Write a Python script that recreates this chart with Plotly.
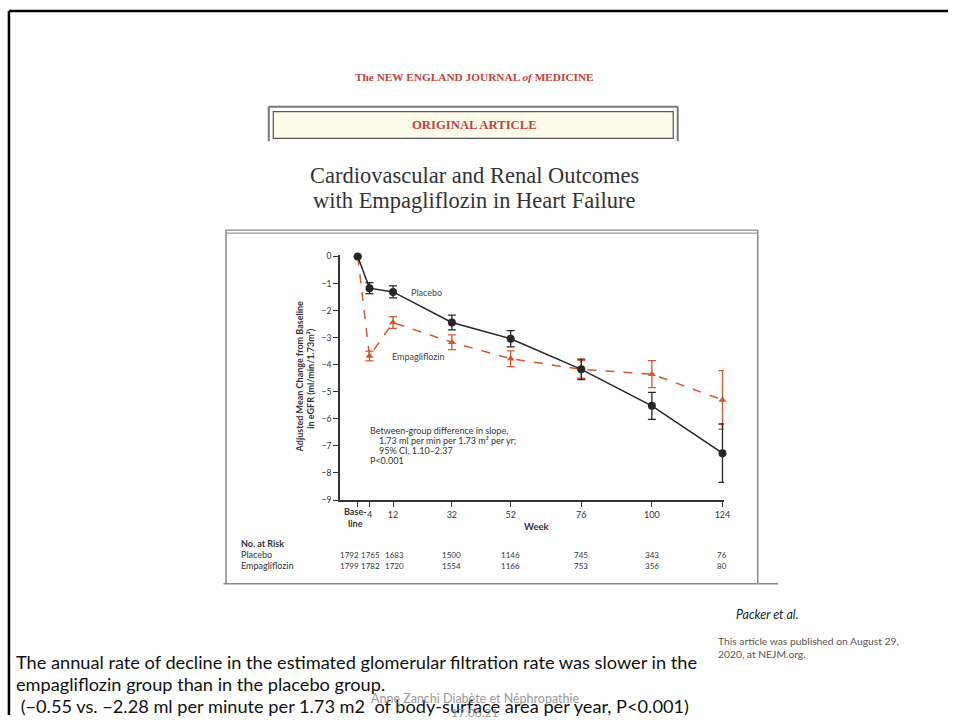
import plotly.graph_objects as go

# ---------------- data ----------------
weeks = [0, 4, 12, 32, 52, 76, 100, 124]
tick_labels = ["", "4", "12", "32", "52", "76", "100", "124"]
baseline_label = "<b>Base-<br>line</b>"
placebo_mean = [0, -1.17, -1.31, -2.44, -3.04, -4.17, -5.52, -7.27]
placebo_ci = [0, 0.20, 0.22, 0.27, 0.30, 0.38, 0.50, 1.08]
empa_mean = [0, -3.68, -2.44, -3.17, -3.78, -4.17, -4.35, -5.30]
empa_ci = [0, 0.18, 0.22, 0.27, 0.29, 0.33, 0.50, 1.08]
risk_placebo = [1792, 1765, 1683, 1500, 1146, 745, 343, 76]
risk_empa = [1799, 1782, 1720, 1554, 1166, 753, 356, 80]
risk_shift = [-8, 1, 1, 0, 0, 0, 0, 0]
y_ticks = [0, -1, -2, -3, -4, -5, -6, -7, -8, -9]

W, H = 954, 720
def px(x): return x / W
def py(y): return 1 - y / H

RED = "#d4572f"
DARK = "#262626"
SANS = "Lato, Open Sans, sans-serif"
SERIF = "Liberation Serif, DejaVu Serif, serif"

fig = go.Figure()

fig.add_trace(go.Scatter(
    x=weeks, y=empa_mean, mode="lines+markers", name="Empagliflozin",
    line=dict(color=RED, width=1.5, dash="dash"),
    marker=dict(symbol="triangle-up", size=7, color=RED),
    error_y=dict(type="data", array=empa_ci, color=RED, thickness=1.3, width=4),
    showlegend=False, cliponaxis=False,
))
fig.add_trace(go.Scatter(
    x=weeks, y=placebo_mean, mode="lines+markers", name="Placebo",
    line=dict(color=DARK, width=1.5),
    marker=dict(symbol="circle", size=8, color=DARK),
    error_y=dict(type="data", array=placebo_ci, color=DARK, thickness=1.3, width=4),
    showlegend=False, cliponaxis=False,
))

X0, SLOPE = 360.0, 2.96
x0_px, x1_px = 342, 728.5
xr0, xr1 = (x0_px - X0) / SLOPE, (x1_px - X0) / SLOPE

fig.update_layout(
    width=W, height=H, autosize=False,
    margin=dict(l=0, r=0, t=0, b=0),
    paper_bgcolor="white", plot_bgcolor="white",
    xaxis=dict(domain=[px(x0_px), px(x1_px)], range=[xr0, xr1],
               tickmode="array", tickvals=weeks, ticktext=tick_labels, tickangle=0,
               showline=True, linecolor="#333", linewidth=1.5,
               ticks="outside", ticklen=5, tickwidth=1.2, tickcolor="#333",
               showgrid=False, zeroline=False,
               tickfont=dict(family=SANS, size=9, color="#333")),
    yaxis=dict(domain=[py(502.3), py(254.3)], range=[-9, 0.05],
               tickmode="array", tickvals=y_ticks,
               showline=True, linecolor="#333", linewidth=1.5,
               ticks="outside", ticklen=5, tickwidth=1.2, tickcolor="#333",
               showgrid=False, zeroline=False,
               tickfont=dict(family=SANS, size=8.5, color="#333")),
    font=dict(family=SANS),
)

ann = []
def text(x, y, t, size, color="#333", family=SANS, xanchor="left", xref="paper",
         angle=0, xshift=0, yanchor="middle"):
    ann.append(dict(x=x, y=y, xref=xref, yref="paper", text=t, showarrow=False,
                    xanchor=xanchor, yanchor=yanchor, textangle=angle, xshift=xshift,
                    borderpad=0, font=dict(size=size, color=color, family=family)))

# header
text(px(477), py(74), "<b>The NEW ENGLAND JOURNAL <i>of</i> MEDICINE</b>", 11.3, "#c8413a", SERIF, "center")
text(px(477), py(122.5), "<b>ORIGINAL ARTICLE</b>", 12.7, "#c8413a", SERIF, "center")
text(px(477), py(174), "Cardiovascular and Renal Outcomes", 22.5, "#333", SERIF, "center")
text(px(477), py(199), "with Empagliflozin in Heart Failure", 22.5, "#333", SERIF, "center")

# chart labels
text(px(413), py(291.7), "Placebo", 9, "#444")
text(px(393), py(356.7), "Empagliflozin", 9, "#444")
text(px(371), py(431.7), "Between-group difference in slope,", 9, "#333")
text(px(380), py(442), "1.73 ml per min per 1.73 m² per yr;", 9, "#333")
text(px(380), py(452.3), "95% CI, 1.10–2.37", 9, "#333")
text(px(371), py(462.6), "P<0.001", 9, "#333")
text(px(301), py(378), "<b>Adjusted Mean Change from Baseline</b>", 9, "#333", SANS, "center", angle=-90)
text(px(312.5), py(379), "<b>in eGFR (ml/min/1.73m²)</b>", 9, "#333", SANS, "center", angle=-90)
text(0, py(507.5), baseline_label, 9, "#333", SANS, "center", xref="x", xshift=-2, yanchor="top")
text(61, py(529), "<b>Week</b>", 9.5, "#333", SANS, "center", xref="x")

# risk table
text(px(241.7), py(546.7), "<b>No. at Risk</b>", 9, "#333")
text(px(241.7), py(557.7), "Placebo", 9, "#333")
text(px(241.7), py(569), "Empagliflozin", 9, "#333")
for wk, a, b, s in zip(weeks, risk_placebo, risk_empa, risk_shift):
    text(wk, py(557.7), str(a), 8, "#333", SANS, "center", xref="x", xshift=s)
    text(wk, py(569), str(b), 8, "#333", SANS, "center", xref="x", xshift=s)

# slide texts
text(px(740), py(618), "<i>Packer et al.</i>", 12.5, "#222")
text(px(722), py(645), "This article was published on August 29,", 10.3, "#555")
text(px(722), py(658), "2020, at NEJM.org.", 10.3, "#555")
text(px(15), py(666), "The annual rate of decline in the estimated glomerular filtration rate was slower in the", 18.2, "#111")
text(px(15), py(688.5), "empagliflozin group than in the placebo group.", 18.2, "#111")
text(px(15), py(710.5), " (−0.55 vs. −2.28 ml per minute per 1.73 m2  of body-surface area per year, P<0.001)", 18.2, "#111")
text(px(479), py(703), "Anne Zanchi Diabète et Néphropathie", 12.5, "#9a9a9a", SANS, "center")
text(px(477), py(717), "17.06.21", 12, "#9a9a9a", SANS, "center")

fig.update_layout(annotations=ann)

shapes = []
def line(x0, y0, x1, y1, color, width):
    shapes.append(dict(type="line", xref="paper", yref="paper",
                       x0=px(x0), y0=py(y0), x1=px(x1), y1=py(y1),
                       line=dict(color=color, width=width)))

# slide border
line(9, 7, 954, 7, "#000", 2.5)
line(9, 7, 9, 720, "#000", 2.5)
# original article box
shapes.append(dict(type="rect", xref="paper", yref="paper", layer="below",
                   x0=px(275), y0=py(136), x1=px(677.5), y1=py(109),
                   fillcolor="#fdfbe9", line=dict(color="#555", width=1.2)))
line(270.5, 104, 682, 104, "#777", 2)
line(270.5, 104, 270.5, 139, "#777", 2)
line(682, 104, 682, 139, "#777", 2)
# figure box
line(227, 229, 763, 229, "#888", 1.2)
line(227, 232, 763, 232, "#999", 1.2)
line(227.5, 229, 227.5, 587, "#888", 1.5)
line(762.5, 229, 762.5, 587, "#888", 1.5)
line(225, 587, 783, 587, "#888", 1.5)
fig.update_layout(shapes=shapes)

fig.write_html("out.html", config={"displayModeBar": False})
